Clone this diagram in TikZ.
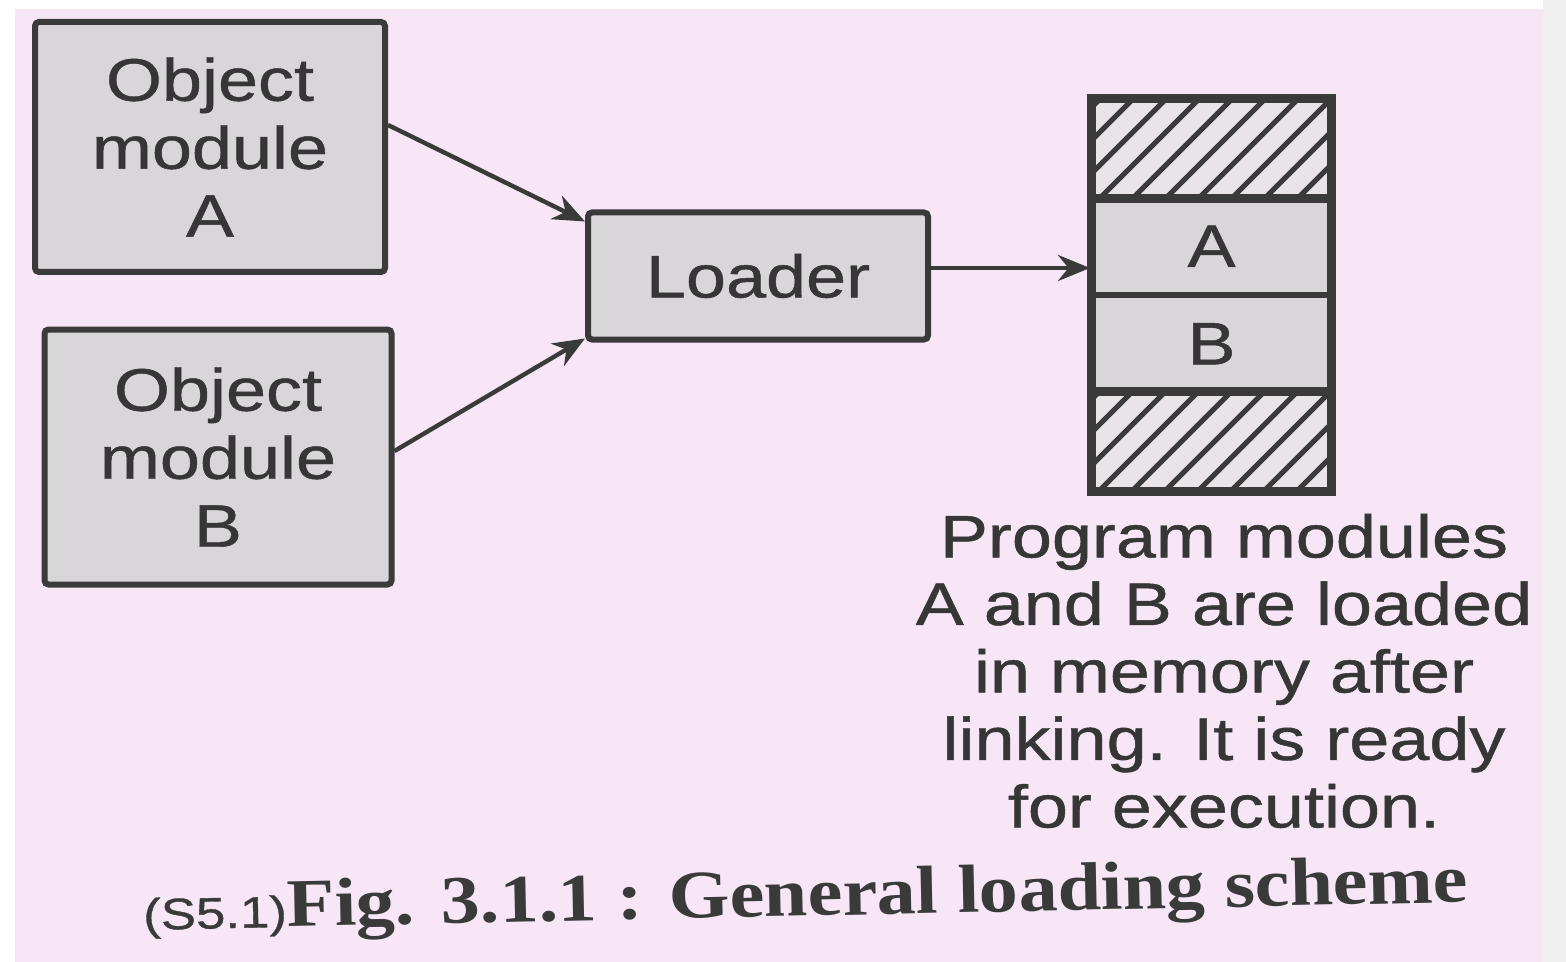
\documentclass[tikz,border=0pt]{standalone}
\usepackage{fontspec}
\setmainfont{Liberation Sans}[FakeStretch=1.2,FakeBold=0.8]
\newfontfamily\capserif{Liberation Serif}[FakeStretch=1.15]
\usetikzlibrary{arrows.meta,calc}
\definecolor{bgpink}{HTML}{F6E6F6}
\definecolor{boxgray}{HTML}{D9D6D9}
\definecolor{hatchbg}{HTML}{E8E4E8}
\definecolor{ink}{HTML}{3A3A3A}
\definecolor{txt}{HTML}{363636}
\begin{document}
\begin{tikzpicture}[x=0.5pt,y=-0.5pt,
  modbox/.style={draw=ink, line width=3pt, fill=boxgray, rounded corners=2pt, text=txt, align=center, font=\fontsize{30}{34}\selectfont, inner sep=0pt},
  memcell/.style={draw=ink, line width=3pt, minimum width=118.5pt, minimum height=48.75pt, inner sep=0pt, text=txt, font=\fontsize{30}{34}\selectfont},
  hatchline/.style={ink, line width=2.6pt},
  conn/.style={ink, line width=2.2pt, -{Stealth[length=16pt,width=13pt]}},
]
\fill[white] (0,0) rectangle (1566,962);
\fill[bgpink] (15,9) rectangle (1543,962);
\fill[gray!12] (1543,0) rectangle (1566,962);
\useasboundingbox (0,0) rectangle (1566,962);

\node[modbox, minimum width=175pt, minimum height=125pt] (objA) at (210,147) {Object\\module\\A};
\node[modbox, minimum width=173.5pt, minimum height=127.5pt] (objB) at (218,457) {Object\\module\\B};
\node[modbox, minimum width=170pt, minimum height=63.5pt] (loader) at (758,276) {Loader};

\node[memcell, fill=hatchbg] (m1) at (1211.5,148.75) {};
\node[memcell, fill=boxgray] (m2) at (1211.5,246.25) {A};
\node[memcell, fill=boxgray] (m3) at (1211.5,343.75) {B};
\node[memcell, fill=hatchbg] (m4) at (1211.5,441.25) {};

\begin{scope}
  \clip (m1.south west) rectangle (m1.north east);
  \foreach \i in {-4,...,8} \draw[hatchline] (1093+\i*33,205) -- ++(115,-115);
\end{scope}
\begin{scope}
  \clip (m4.south west) rectangle (m4.north east);
  \foreach \i in {-4,...,8} \draw[hatchline] (1093+\i*33,497) -- ++(115,-115);
\end{scope}
\draw[ink, line width=3pt] (m1.south west) rectangle (m1.north east);
\draw[ink, line width=3pt] (m4.south west) rectangle (m4.north east);
\draw[ink, line width=3.2pt] (m1.north west) rectangle (m4.south east);

\coordinate (aS) at ([yshift=11pt]objA.east);
\coordinate (aE) at ([yshift=-6pt]loader.north west);
\coordinate (bS) at ([yshift=3pt]objB.east);
\coordinate (bE) at ([yshift=2pt]loader.south west);
\coordinate (lS) at ([yshift=4pt]loader.east);
\draw[conn] (aS) -- (aE);
\draw[conn] (bS) -- (bE);
\draw[conn] (lS) -- (lS -| m2.west);

\node[text=txt, align=center, font=\fontsize{30}{33.75}\selectfont, inner sep=0pt] (note) at (1224,671) {Program modules\\A and B are loaded\\in memory after\\linking. It is ready\\for execution.};

\node[rotate=1.2, anchor=base, text=ink, inner sep=0pt] (cap) at (806,916) {{\fontsize{22}{26}\selectfont (S5.1)}{\capserif\bfseries\fontsize{34}{40}\selectfont Fig. 3.1.1 : General loading scheme}};
\end{tikzpicture}
\end{document}
